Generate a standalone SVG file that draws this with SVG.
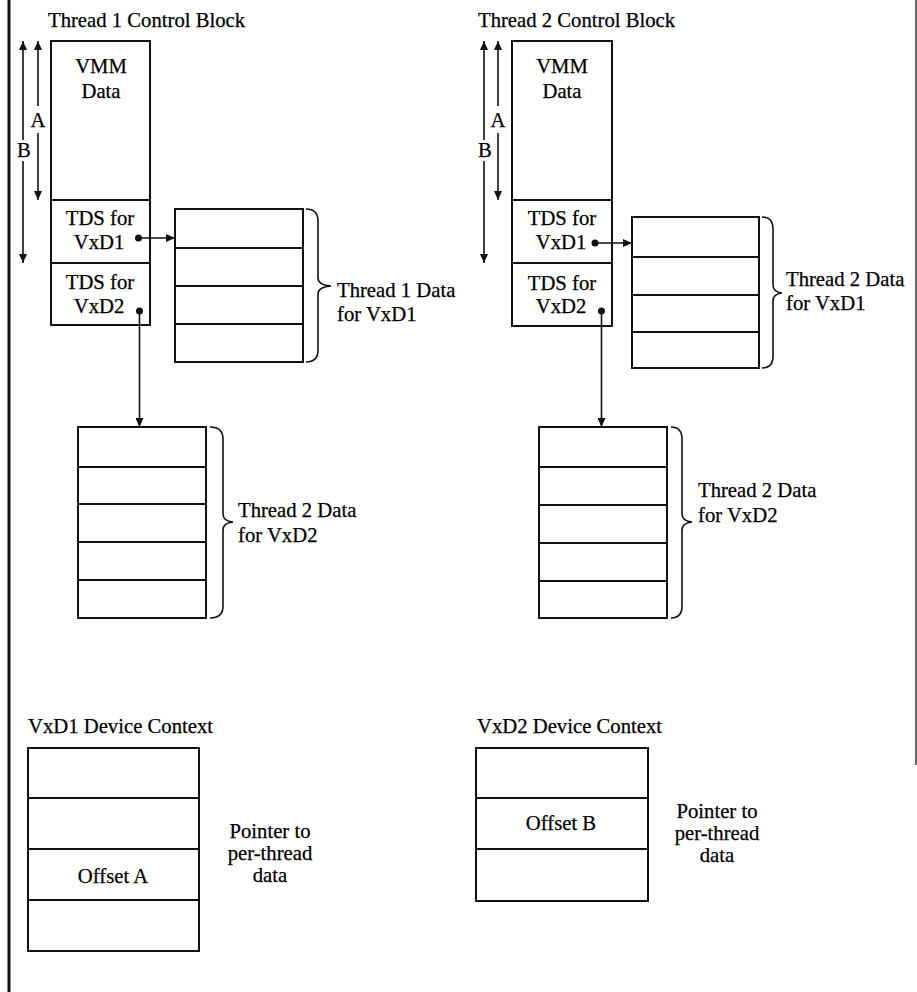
<svg xmlns="http://www.w3.org/2000/svg" width="917" height="992" viewBox="0 0 917 992">
<style>
text{font-family:"Liberation Serif","Times New Roman",serif;font-size:20.7px;fill:#000;stroke:#000;stroke-width:0.25}
.c{text-anchor:middle}
.box{fill:none;stroke:#111;stroke-width:2}
.ln{stroke:#111;stroke-width:1.8;fill:none}
.br{stroke:#111;stroke-width:1.6;fill:none}
.dim{stroke:#111;stroke-width:1.6;fill:none;marker-end:url(#ah)}
</style>
<defs>
<marker id="ah" markerUnits="userSpaceOnUse" markerWidth="10" markerHeight="8" refX="9" refY="4" orient="auto">
<path d="M0,0 L9,4 L0,8 z" fill="#111"/>
</marker>
</defs>
<rect width="917" height="992" fill="#fff"/>
<g id="frame">
<line x1="9" y1="0" x2="9" y2="992" stroke="#111" stroke-width="3"/>
<line x1="916" y1="0" x2="916" y2="765" stroke="#333" stroke-width="1.5"/>
</g>

<g id="tcb1">
<text x="48" y="27">Thread 1 Control Block</text>
<rect class="box" x="51" y="41" width="99" height="284"/>
<line class="ln" x1="51" y1="200" x2="150" y2="200"/>
<line class="ln" x1="51" y1="263" x2="150" y2="263"/>
<text class="c" x="101" y="73">VMM</text>
<text class="c" x="101" y="98">Data</text>
<text class="c" x="100" y="225">TDS for</text>
<text class="c" x="99" y="249">VxD1</text>
<text class="c" x="100" y="289">TDS for</text>
<text class="c" x="99" y="313">VxD2</text>
<text class="c" x="38" y="127">A</text>
<text class="c" x="24" y="157">B</text>
</g>

<g id="tcb2">
<text x="478" y="27">Thread 2 Control Block</text>
<rect class="box" x="512" y="41" width="100" height="285"/>
<line class="ln" x1="512" y1="200" x2="612" y2="200"/>
<line class="ln" x1="512" y1="263" x2="612" y2="263"/>
<text class="c" x="562" y="73">VMM</text>
<text class="c" x="562" y="98">Data</text>
<text class="c" x="562" y="225">TDS for</text>
<text class="c" x="561" y="249">VxD1</text>
<text class="c" x="562" y="290">TDS for</text>
<text class="c" x="561" y="313">VxD2</text>
<text class="c" x="498" y="127">A</text>
<text class="c" x="485" y="157">B</text>
</g>

<g id="t1d1">
<rect class="box" x="175" y="209" width="128" height="153"/>
<line class="ln" x1="175" y1="248" x2="303" y2="248"/>
<line class="ln" x1="175" y1="286" x2="303" y2="286"/>
<line class="ln" x1="175" y1="324" x2="303" y2="324"/>
<path class="br" d="M306,209 Q318,209 318,221 L318,278 Q318,285 331,286 Q318,287 318,294 L318,350 Q318,362 306,362"/>
<text x="337" y="297">Thread 1 Data</text>
<text x="337" y="321">for VxD1</text>
</g>

<g id="t2d1">
<rect class="box" x="632" y="217" width="127" height="151"/>
<line class="ln" x1="632" y1="257" x2="759" y2="257"/>
<line class="ln" x1="632" y1="295" x2="759" y2="295"/>
<line class="ln" x1="632" y1="332" x2="759" y2="332"/>
<path class="br" d="M762,217 Q773,217 773,229 L773,285 Q773,292 782,293 Q773,294 773,301 L773,356 Q773,368 762,368"/>
<text x="786" y="286">Thread 2 Data</text>
<text x="786" y="310">for VxD1</text>
</g>

<g id="t1d2">
<rect class="box" x="78" y="427" width="128" height="191"/>
<line class="ln" x1="78" y1="467" x2="206" y2="467"/>
<line class="ln" x1="78" y1="504" x2="206" y2="504"/>
<line class="ln" x1="78" y1="542" x2="206" y2="542"/>
<line class="ln" x1="78" y1="580" x2="206" y2="580"/>
<path class="br" d="M210,427 Q223,427 223,439 L223,514 Q223,521 233,522 Q223,523 223,530 L223,606 Q223,618 210,618"/>
<text x="238" y="517">Thread 2 Data</text>
<text x="238" y="542">for VxD2</text>
</g>

<g id="t2d2">
<rect class="box" x="539" y="427" width="128" height="191"/>
<line class="ln" x1="539" y1="467" x2="667" y2="467"/>
<line class="ln" x1="539" y1="505" x2="667" y2="505"/>
<line class="ln" x1="539" y1="543" x2="667" y2="543"/>
<line class="ln" x1="539" y1="581" x2="667" y2="581"/>
<path class="br" d="M671,427 Q682,427 682,439 L682,514 Q682,521 692,522 Q682,523 682,530 L682,606 Q682,618 671,618"/>
<text x="698" y="497">Thread 2 Data</text>
<text x="698" y="522">for VxD2</text>
</g>

<g id="dc1">
<text x="28" y="733">VxD1 Device Context</text>
<rect class="box" x="28" y="748" width="171" height="203"/>
<line class="ln" x1="28" y1="798" x2="199" y2="798"/>
<line class="ln" x1="28" y1="849" x2="199" y2="849"/>
<line class="ln" x1="28" y1="900" x2="199" y2="900"/>
<text class="c" x="113" y="883">Offset A</text>
<text class="c" x="270" y="838">Pointer to</text>
<text class="c" x="270" y="860">per-thread</text>
<text class="c" x="270" y="882">data</text>
</g>

<g id="dc2">
<text x="477" y="733">VxD2 Device Context</text>
<rect class="box" x="476" y="748" width="172" height="153"/>
<line class="ln" x1="476" y1="798" x2="648" y2="798"/>
<line class="ln" x1="476" y1="849" x2="648" y2="849"/>
<text class="c" x="561" y="830">Offset B</text>
<text class="c" x="717" y="818">Pointer to</text>
<text class="c" x="717" y="840">per-thread</text>
<text class="c" x="717" y="862">data</text>
</g>

<g id="connectors">
<line class="dim" x1="23" y1="140" x2="23" y2="41"/>
<line class="dim" x1="23" y1="161" x2="23" y2="263"/>
<line class="dim" x1="38" y1="106" x2="38" y2="41"/>
<line class="dim" x1="38" y1="133" x2="38" y2="200"/>
<line class="dim" x1="484" y1="140" x2="484" y2="41"/>
<line class="dim" x1="484" y1="161" x2="484" y2="263"/>
<line class="dim" x1="498" y1="106" x2="498" y2="41"/>
<line class="dim" x1="498" y1="133" x2="498" y2="200"/>
<circle cx="138.5" cy="238" r="3.5" fill="#111"/>
<line class="dim" x1="138.5" y1="238" x2="175" y2="238"/>
<circle cx="139.5" cy="311" r="3.5" fill="#111"/>
<line class="dim" x1="139.5" y1="311" x2="139.5" y2="427"/>
<circle cx="595" cy="243" r="3.5" fill="#111"/>
<line class="dim" x1="595" y1="243" x2="632" y2="243"/>
<circle cx="601.5" cy="311" r="3.5" fill="#111"/>
<line class="dim" x1="601.5" y1="311" x2="601.5" y2="427"/>
</g>
</svg>
